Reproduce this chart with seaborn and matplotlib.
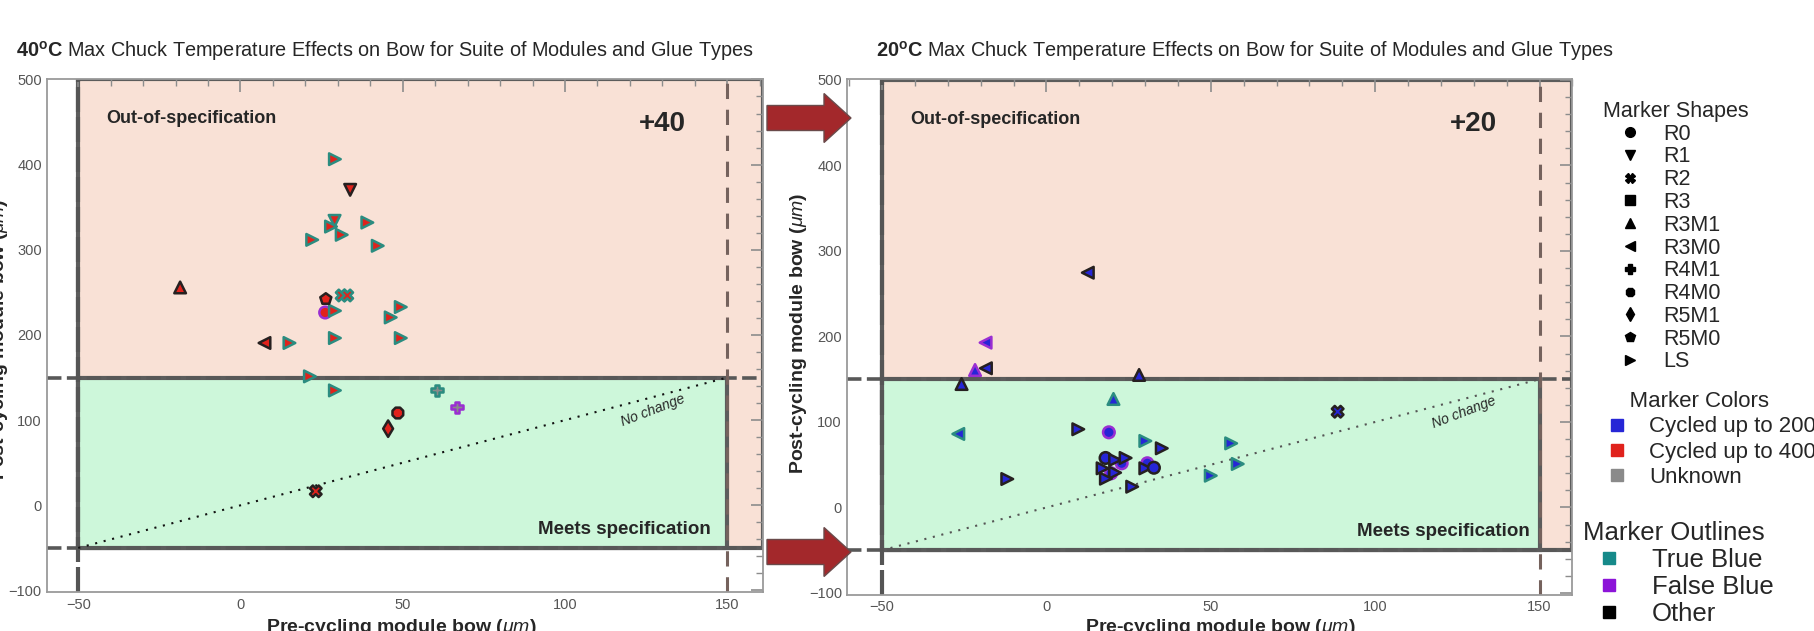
import matplotlib
matplotlib.use("Agg")
import matplotlib.pyplot as plt
from matplotlib import font_manager
from matplotlib.patches import Rectangle, Polygon
from matplotlib.lines import Line2D
from matplotlib.ticker import MultipleLocator
import seaborn as sns
import pandas as pd

# ---- 40C max chuck temperature panel ----
hot_x = [29.1, 33.8, 29.0, 27.9, 39.1, 31.2, 22.1, 42.3, -18.6, 31.2, 32.9, 26.3, 26.1,
         29.1, 49.4, 46.3, 7.4, 15.1, 29.1, 49.4, 21.4, 29.1, 60.5, 66.8, 48.5, 45.5, 23.2]
hot_y = [406.4, 370.4, 334.0, 327.3, 332.0, 317.6, 311.7, 304.7, 255.8, 246.4, 246.4, 242.2, 226.4,
         228.4, 232.8, 220.6, 190.6, 190.6, 196.4, 196.4, 151.4, 134.9, 134.9, 115.0, 108.4, 90.0, 16.5]
hot_shape = ['LS', 'R1', 'R1', 'LS', 'LS', 'LS', 'LS', 'LS', 'R3M1', 'R2', 'R2', 'R5M0', 'R0',
             'LS', 'LS', 'LS', 'R3M0', 'LS', 'LS', 'LS', 'LS', 'LS', 'R4M1', 'R4M1', 'R4M0', 'R5M1', 'R2']
hot_color = ['400'] * 22 + ['Unknown', 'Unknown', '400', '400', '400']
hot_outline = ['True Blue', 'Other', 'True Blue', 'True Blue', 'True Blue', 'True Blue', 'True Blue',
               'True Blue', 'Other', 'True Blue', 'True Blue', 'Other', 'False Blue',
               'True Blue', 'True Blue', 'True Blue', 'Other', 'True Blue', 'True Blue', 'True Blue',
               'True Blue', 'True Blue', 'True Blue', 'False Blue', 'Other', 'Other', 'Other']

# ---- 20C max chuck temperature panel ----
cold_x = [12.6, -18.5, -21.7, -18.4, -25.8, 28.2, 20.4, -26.8, 9.7, 19.0, 30.1, 35.1, 22.9, 19.7,
          30.7, 18.0, 20.9, 24.1, 17.1, 20.9, 18.1, 30.1, 32.7, 26.1, -11.9, 56.2, 58.2, 50.0, 88.6]
cold_y = [274.6, 192.8, 160.8, 162.8, 144.4, 155.0, 126.9, 86.0, 91.5, 87.9, 77.8, 69.2, 51.7, 40.0,
          51.7, 57.9, 55.6, 57.9, 45.8, 40.7, 33.7, 45.8, 46.5, 24.3, 33.3, 75.0, 50.9, 37.2, 112.0]
cold_shape = ['R3M0', 'R3M0', 'R3M1', 'R3M0', 'R3M1', 'R3M1', 'R3M1', 'R3M0', 'LS', 'R0', 'LS', 'LS',
              'R0', 'R0', 'R0', 'R0', 'LS', 'LS', 'LS', 'LS', 'LS', 'LS', 'R0', 'LS', 'LS', 'LS',
              'LS', 'LS', 'R2']
cold_color = ['200'] * 29
cold_outline = ['Other', 'False Blue', 'False Blue', 'Other', 'Other', 'Other', 'True Blue', 'True Blue',
                'Other', 'False Blue', 'True Blue', 'Other', 'False Blue', 'False Blue', 'False Blue',
                'Other', 'Other', 'Other', 'Other', 'Other', 'Other', 'Other', 'Other', 'Other', 'Other',
                'True Blue', 'True Blue', 'True Blue', 'Other']

shape_names = ['R0', 'R1', 'R2', 'R3', 'R3M1', 'R3M0', 'R4M1', 'R4M0', 'R5M1', 'R5M0', 'LS']
shape_markers = {'R0': 'o', 'R1': 'v', 'R2': 'X', 'R3': 's', 'R3M1': '^', 'R3M0': '<',
                 'R4M1': 'P', 'R4M0': '8', 'R5M1': 'd', 'R5M0': 'p', 'LS': '>'}
color_names = ['200', '400', 'Unknown']
color_labels = ['Cycled up to 200\u00b0C', 'Cycled up to 400\u00b0C', 'Unknown']
face_palette = {'200': '#2626d6', '400': '#e0221c', 'Unknown': '#8a8a8a'}
outline_names = ['True Blue', 'False Blue', 'Other']
outline_palette = {'True Blue': '#2b8c80', 'False Blue': '#9a2ed2', 'Other': '#262020'}
legend_outline = {'True Blue': '#168a8a', 'False Blue': '#8c14d8', 'Other': '#000000'}

spec_limits = [-50, 150]
no_change = [-50, 150]

PINK = '#f9e1d6'
GREEN = '#cdf7da'
BOX = '#5c5c5c'

sns.set_style('white')
available = {f.name for f in font_manager.fontManager.ttflist}
NARROW = 'Liberation Sans Narrow' if 'Liberation Sans Narrow' in available else 'Liberation Sans'
plt.rcParams['font.family'] = [NARROW, 'DejaVu Sans']
plt.rcParams['mathtext.fontset'] = 'custom'
plt.rcParams['mathtext.rm'] = NARROW
plt.rcParams['mathtext.bf'] = NARROW + ':bold'
plt.rcParams['mathtext.it'] = 'Liberation Sans:italic'

W, H = 1815, 631
fig = plt.figure(figsize=(W / 100, H / 100), dpi=100)


def fx(px):
    return px / W


def fy(py):
    return 1 - py / H


def draw_panel(ax, df, xlim, tag, line_color, meets_x):
    lo, hi = spec_limits
    ax.set_xlim(xlim)
    ax.set_ylim(-102, 501)

    ax.add_patch(Rectangle((lo, lo), xlim[1] - lo, 500 - lo, facecolor=PINK,
                           edgecolor=BOX, lw=3, zorder=0.5))
    ax.add_patch(Rectangle((lo, lo), hi - lo, hi - lo, facecolor=GREEN,
                           edgecolor=BOX, lw=3, zorder=0.6))
    for yv in spec_limits:
        ax.axhline(yv, color='#585858', lw=2.6, dashes=(4, 1.5), zorder=1)
    ax.axvline(lo, color='#555555', lw=3, dashes=(6, 1.2), zorder=1)
    ax.axvline(hi, color='#75625d', lw=2.2, dashes=(5, 3.5), zorder=1)

    ax.plot(no_change, no_change, color=line_color, lw=1.5, dashes=(1, 3.2), zorder=1.5)

    for outline in ['False Blue', 'True Blue', 'Other']:
        sub = df[df['outline'] == outline]
        if sub.empty:
            continue
        sns.scatterplot(data=sub, x='x', y='y', hue='color', palette=face_palette,
                        style='shape', markers=shape_markers, s=70,
                        edgecolor=outline_palette[outline], linewidth=1.8,
                        legend=False, ax=ax, zorder=3)

    ax.text(-41.3, 454, 'Out-of-specification', fontsize=13, fontweight='bold',
            ha='left', va='center')
    ax.text(130, 448, tag, fontsize=20, fontweight='bold', ha='center', va='center')
    ax.text(meets_x, -28, 'Meets specification', fontsize=13.5, fontweight='bold',
            ha='right', va='center')
    ax.text(127, 111, 'No change', fontsize=10, style='italic', rotation=21,
            ha='center', va='center')

    ax.set_xticks([-50, 0, 50, 100, 150])
    ax.set_yticks(range(-100, 501, 100))
    ax.xaxis.set_minor_locator(MultipleLocator(10))
    ax.yaxis.set_minor_locator(MultipleLocator(20))
    ax.tick_params(which='both', direction='in', top=True, right=True,
                   color='#8c8c8c', labelcolor='#555555', labelsize=10.5, pad=4)
    ax.tick_params(which='major', length=9, width=1.2)
    ax.tick_params(which='minor', length=5, width=1.0)
    for sp in ax.spines.values():
        sp.set_color('#9a9a9a')
        sp.set_linewidth(1.3)
    ax.set_xlabel('')
    ax.set_ylabel('')


hot_df = pd.DataFrame({'x': hot_x, 'y': hot_y, 'shape': hot_shape,
                       'color': hot_color, 'outline': hot_outline})
cold_df = pd.DataFrame({'x': cold_x, 'y': cold_y, 'shape': cold_shape,
                        'color': cold_color, 'outline': cold_outline})

ax1 = fig.add_axes([fx(47.4), fy(592.2), fx(762.9 - 47.4), (592.2 - 78.6) / H])
ax2 = fig.add_axes([fx(847.5), fy(594.7), fx(1572.4 - 847.5), (594.7 - 79.1) / H])
draw_panel(ax1, hot_df, (-59.5, 161), '+40', '#111111', 145)
draw_panel(ax2, cold_df, (-60.5, 160), '+20', '#555555', 147)

# titles
title_rest = ' Max Chuck Temperature Effects on Bow for Suite of Modules and Glue Types'
fig.text(fx(16), fy(51), r'$\mathbf{40^{o}C}$' + title_rest, fontsize=14.3, va='center', ha='left')
fig.text(fx(876), fy(51), r'$\mathbf{20^{o}C}$' + title_rest, fontsize=14.3, va='center', ha='left')

# axis labels (the slide crops them at the picture edges)
ylab = 'Post-cycling module bow ($\\mu m$)'
xlab = 'Pre-cycling module bow ($\\mu m$)'
lab_font = dict(fontsize=14, fontweight='bold', family=['Liberation Sans', 'DejaVu Sans'])
fig.text(fx(0), fy(339), ylab, rotation=90, ha='center', va='center', **lab_font)
fig.text(fx(799), fy(333), ylab, rotation=90, ha='center', va='center', **lab_font)
fig.text(fx(401), fy(617), xlab, ha='center', va='top', **lab_font)
fig.text(fx(1220), fy(617), xlab, ha='center', va='top', **lab_font)

# arrows between panels
for cy in [118, 552]:
    pts = [(767, cy - 12.5), (824, cy - 12.5), (824, cy - 24.5), (851, cy),
           (824, cy + 24.5), (824, cy + 12.5), (767, cy + 12.5)]
    fig.add_artist(Polygon([(fx(px), fy(py)) for px, py in pts], closed=True,
                           facecolor='#a3282b', edgecolor='#6a4a4a', lw=1,
                           transform=fig.transFigure))


# legends
def prop(size):
    return {'family': ['Liberation Sans', 'DejaVu Sans'], 'size': size}


shape_handles = [Line2D([], [], ls='none', marker=shape_markers[s], color='black', markersize=7)
                 for s in shape_names]
fig.legend(shape_handles, shape_names, loc='upper left',
           bbox_to_anchor=(fx(1603), fy(100.8)), frameon=False, title='Marker Shapes',
           alignment='left', handlelength=2.51, handletextpad=0.28, labelspacing=0.083,
           borderpad=0, borderaxespad=0, prop=prop(15.5), title_fontproperties=prop(15.5))

color_handles = [Line2D([], [], ls='none', marker='s', color=face_palette[c], markersize=8.5)
                 for c in color_names]
fig.legend(color_handles, color_labels, loc='upper left',
           bbox_to_anchor=(fx(1605), fy(391)), frameon=False, title='    Marker Colors',
           alignment='left', handlelength=1.08, handletextpad=0.92, labelspacing=0.19,
           borderpad=0, borderaxespad=0, prop=prop(16), title_fontproperties=prop(16))

outline_handles = [Line2D([], [], ls='none', marker='s', color=legend_outline[o], markersize=8.5)
                   for o in outline_names]
fig.legend(outline_handles, outline_names, loc='upper left',
           bbox_to_anchor=(fx(1583.5), fy(520.5)), frameon=False, title='Marker Outlines',
           alignment='left', handlelength=1.98, handletextpad=0.68, labelspacing=0.125,
           borderpad=0, borderaxespad=0, prop=prop(18.5), title_fontproperties=prop(18.5))

fig.savefig('out.png', dpi=100)
